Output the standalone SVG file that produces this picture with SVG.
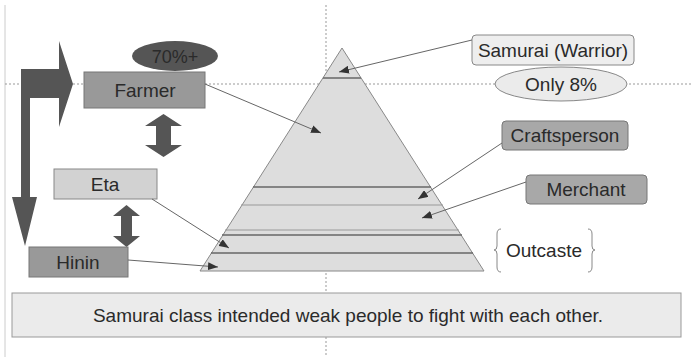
<svg xmlns="http://www.w3.org/2000/svg" width="692" height="357" viewBox="0 0 692 357">
<defs>
<style>
text{font-family:"Liberation Sans",Arial,sans-serif;font-size:19px;fill:#2a2a2a;text-anchor:middle}
.guide{stroke:#999;stroke-width:1;stroke-dasharray:2 2;fill:none}
.conn{stroke:#666;stroke-width:1;fill:none;marker-end:url(#ah)}
.band{stroke:#666;stroke-width:1.3}
.lband{stroke:#999;stroke-width:1}
.dark{fill:#999;stroke:#777;stroke-width:1}
.light{fill:#d2d2d2;stroke:#888;stroke-width:1}
.pale{fill:#eeeeee;stroke:#888;stroke-width:1}
.dbl{fill:#555}
</style>
<marker id="ah" markerWidth="10" markerHeight="8" refX="10" refY="4" orient="auto" markerUnits="userSpaceOnUse">
<path d="M0,0 L10,4 L0,8 Z" fill="#333"/>
</marker>
</defs>
<rect width="692" height="357" fill="#ffffff"/>
<line x1="5" y1="5" x2="5" y2="357" stroke="#ccc" stroke-width="1"/>

<g id="guides">
<line class="guide" x1="326" y1="5" x2="326" y2="357"/>
<line class="guide" x1="5" y1="84" x2="692" y2="84"/>
</g>

<g id="pyramid">
<polygon points="342,48 484,271 200,271" fill="#dddddd" stroke="#888" stroke-width="1"/>
<line class="band" x1="323" y1="78" x2="361" y2="78"/>
<line class="band" x1="253" y1="187" x2="431" y2="187"/>
<line class="lband" x1="241" y1="205" x2="443" y2="205"/>
<line class="lband" x1="225" y1="230" x2="459" y2="230"/>
<line class="band" x1="222" y1="235" x2="462" y2="235"/>
<line class="band" x1="211" y1="253" x2="473" y2="253"/>
</g>

<g id="bent-arrow">
<polygon points="21,69 59,69 59,41 73,84 59,127 59,98 30,98 30,197 37,197 25,246 12,197 21,197" fill="#555"/>
</g>

<g id="farmer">
<ellipse cx="175" cy="56" rx="43" ry="15" fill="#555"/>
<text x="175" y="63" style="font-size:18px">70%+</text>
<rect class="dark" x="84" y="72" width="121" height="36"/>
<text x="145" y="97">Farmer</text>
</g>

<g id="arrow-farmer-eta">
<polygon class="dbl" points="163.5,114 182,126 171,126 171,145 182,145 163.5,157 145,145 156,145 156,126 145,126"/>
</g>

<g id="eta">
<rect class="light" x="54" y="169" width="103" height="30"/>
<text x="105" y="191">Eta</text>
</g>

<g id="arrow-eta-hinin">
<polygon class="dbl" points="126.5,205 140,216 132,216 132,236 140,236 126.5,247 113,236 121,236 121,216 113,216"/>
</g>

<g id="hinin">
<rect class="dark" x="29" y="247" width="99" height="30"/>
<text x="78" y="269">Hinin</text>
</g>

<g id="samurai">
<rect class="pale" x="472" y="35" width="162" height="30" rx="4"/>
<text x="553" y="57">Samurai (Warrior)</text>
</g>

<g id="only8">
<ellipse cx="561" cy="84" rx="66" ry="17" fill="#ebebeb" stroke="#888" stroke-width="1"/>
<text x="561" y="91">Only 8%</text>
</g>

<g id="craftsperson">
<rect class="dark" x="502" y="121" width="126" height="29" rx="4" style="fill:#a8a8a8"/>
<text x="565" y="142">Craftsperson</text>
</g>

<g id="merchant">
<rect class="dark" x="526" y="175" width="121" height="29" rx="4" style="fill:#a8a8a8"/>
<text x="586" y="196">Merchant</text>
</g>

<g id="outcaste">
<path d="M501,229 Q497,229 497,234 L497,246 Q497,250 494,250 Q497,250 497,254 L497,267 Q497,272 501,272" fill="none" stroke="#888" stroke-width="1"/>
<path d="M588,229 Q592,229 592,234 L592,246 Q592,250 595,250 Q592,250 592,254 L592,267 Q592,272 588,272" fill="none" stroke="#888" stroke-width="1"/>
<text x="544" y="257">Outcaste</text>
</g>

<g id="connectors">
<line class="conn" x1="472" y1="40" x2="339" y2="72"/>
<line class="conn" x1="205" y1="84" x2="321" y2="133"/>
<line class="conn" x1="502" y1="143" x2="418" y2="199"/>
<line class="conn" x1="526" y1="182" x2="422" y2="218"/>
<line class="conn" x1="152" y1="199" x2="229" y2="248"/>
<line class="conn" x1="128" y1="260" x2="218" y2="267"/>
</g>

<g id="note">
<rect x="12" y="293" width="669" height="44" fill="#ebebeb" stroke="#999" stroke-width="1"/>
<text x="348" y="322">Samurai class intended weak people to fight with each other.</text>
</g>
</svg>
